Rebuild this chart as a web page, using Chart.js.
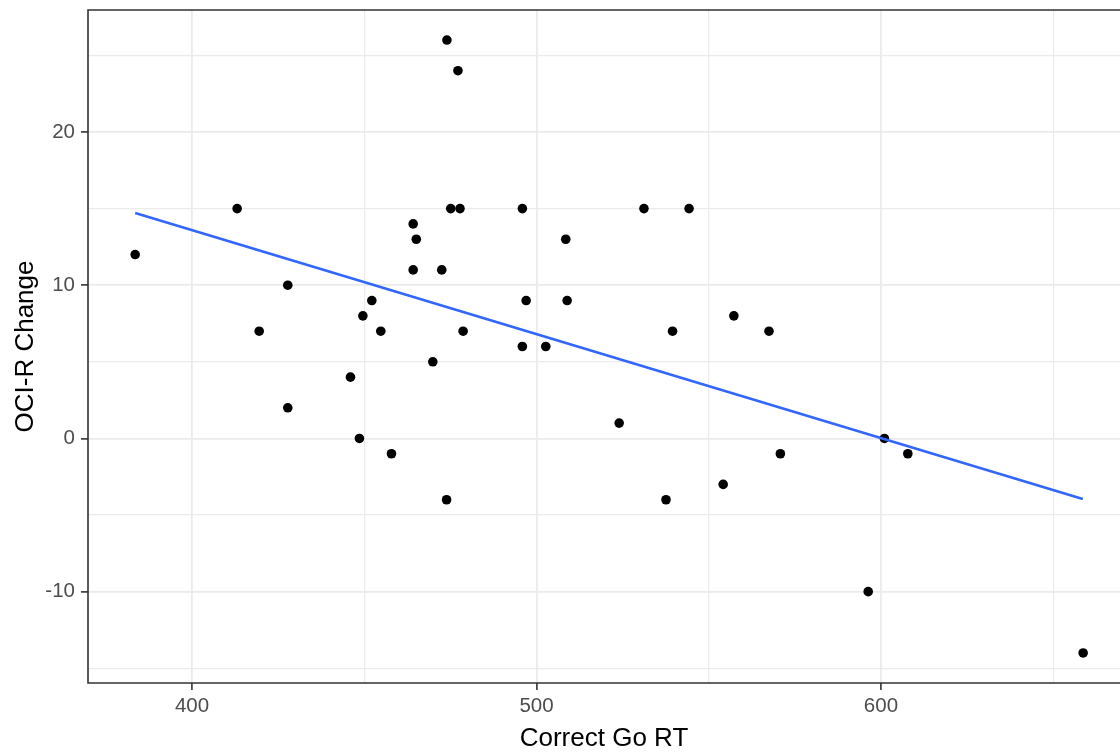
<!DOCTYPE html>
<html>
<head>
<meta charset="utf-8">
<script src="https://cdn.jsdelivr.net/npm/chart.js@4.4.1/dist/chart.umd.min.js"></script>
<style>
   html, body { margin: 0; padding: 0; background: #fff; }
</style>
</head>
<body>
<canvas id="scatterChart" width="1120" height="754"></canvas>
<script>
// values
const goRT = [383.5, 413.1, 419.5, 427.8, 427.8, 446.0, 448.6, 449.6, 452.2, 454.8,
              457.9, 464.2, 465.1, 464.2, 469.9, 472.5, 474.0, 473.9, 475.1, 477.2,
              477.8, 478.7, 495.9, 495.9, 497.0, 502.7, 508.5, 508.9, 524.0, 531.2,
              537.6, 539.5, 544.3, 554.2, 557.3, 567.5, 570.8, 596.3, 601.0, 607.8, 658.7];
const ociChange = [12, 15, 7, 10, 2, 4, 0, 8, 9, 7,
                   -1, 14, 13, 11, 5, 11, 26, -4, 15, 24,
                   15, 7, 15, 6, 9, 6, 13, 9, 1, 15,
                   -4, 7, 15, -3, 8, 7, -1, -10, 0, -1, -14];
// fitted lm line (end points as drawn)
const fitRT = [383.5, 658.6];
const fitOci = [14.72, -3.95];

const xTicks = [400, 450, 500, 550, 600, 650];
const yTicks = [-15, -10, -5, 0, 5, 10, 15, 20, 25];

const FONT = '"Liberation Sans", Arial, sans-serif';
const BORDER = '#333333';

const panelBorder = {
   id: 'panelBorder',
   afterDraw(chart) {
      const a = chart.chartArea;
      const ctx = chart.ctx;
      ctx.save();
      ctx.strokeStyle = BORDER;
      ctx.lineWidth = 1.6;
      ctx.beginPath();
      ctx.moveTo(chart.width + 2, a.top);
      ctx.lineTo(a.left, a.top);
      ctx.lineTo(a.left, a.bottom);
      ctx.lineTo(chart.width + 2, a.bottom);
      ctx.stroke();
      ctx.restore();
   }
};

const points = goRT.map((x, i) => ({ x: x, y: ociChange[i] }));
const fitPoints = fitRT.map((x, i) => ({ x: x, y: fitOci[i] }));

const ctx = document.getElementById('scatterChart').getContext('2d');
new Chart(ctx, {
   type: 'scatter',
   data: {
      datasets: [{
         data: points,
         backgroundColor: '#000000',
         borderWidth: 0,
         pointRadius: 4.8,
         order: 2
      }, {
         type: 'line',
         data: fitPoints,
         borderColor: '#3366FF',
         borderWidth: 2.6,
         pointRadius: 0,
         fill: false,
         order: 1
      }]
   },
   options: {
      responsive: false,
      animation: false,
      events: [],
      layout: { autoPadding: false, padding: { top: 10, right: 0, bottom: 0, left: 0 } },
      scales: {
         x: {
            type: 'linear',
            min: 369.8,
            max: 669.4,
            afterBuildTicks: s => { s.ticks = xTicks.map(v => ({ value: v })); },
            afterFit: s => { s.height = 71; s.paddingLeft = 0; s.paddingRight = 0; },
            border: { display: false },
            grid: {
               color: '#EBEBEB',
               lineWidth: c => (c.tick && c.tick.value % 100 === 0) ? 1.8 : 1.2,
               tickLength: 7,
               tickWidth: 1.6,
               tickColor: c => (c.tick && c.tick.value % 100 === 0) ? BORDER : 'rgba(0,0,0,0)'
            },
            ticks: {
               padding: 4,
               maxRotation: 0,
               autoSkip: false,
               color: '#4D4D4D',
               font: { family: FONT, size: 20.5 },
               callback: v => v % 100 === 0 ? String(v) : ''
            },
            title: {
               display: true,
               text: 'Correct Go RT',
               color: '#000000',
               font: { family: FONT, size: 26 },
               padding: { top: 0, bottom: 0 }
            }
         },
         y: {
            type: 'linear',
            min: -15.96,
            max: 27.96,
            afterBuildTicks: s => { s.ticks = yTicks.map(v => ({ value: v })); },
            afterFit: s => { s.width = 88; s.paddingTop = 0; s.paddingBottom = 0; },
            border: { display: false },
            grid: {
               color: '#EBEBEB',
               lineWidth: c => (c.tick && c.tick.value % 10 === 0) ? 1.8 : 1.2,
               tickLength: 7,
               tickWidth: 1.6,
               tickColor: c => (c.tick && c.tick.value % 10 === 0) ? BORDER : 'rgba(0,0,0,0)'
            },
            ticks: {
               padding: 6,
               autoSkip: false,
               color: '#4D4D4D',
               font: { family: FONT, size: 20.5 },
               callback: v => v % 10 === 0 ? String(v) : ''
            },
            title: {
               display: true,
               text: 'OCI-R Change',
               color: '#000000',
               font: { family: FONT, size: 26 },
               padding: { top: 10, bottom: 0 }
            }
         }
      },
      plugins: {
         legend: { display: false },
         tooltip: { enabled: false }
      }
   },
   plugins: [panelBorder]
});
</script>
</body>
</html>
